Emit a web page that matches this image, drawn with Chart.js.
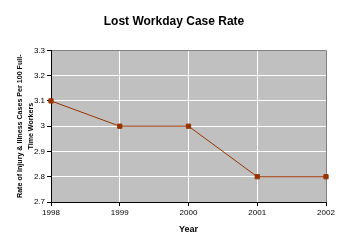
<!DOCTYPE html>
<html>
<head>
<meta charset="utf-8">
<script src="https://cdn.jsdelivr.net/npm/chart.js@4"></script>
<style>
  html, body { margin: 0; padding: 0; background: #fff; }
  #wrap { width: 348px; height: 249px; }
</style>
</head>
<body>
<div id="wrap"><canvas id="rateChart" width="348" height="249"></canvas></div>
<script>
const years = ["1998", "1999", "2000", "2001", "2002"];
const caseRate = [3.1, 3.0, 3.0, 2.8, 2.8];
const yTicks = [2.7, 2.8, 2.9, 3.0, 3.1, 3.2, 3.3];

// gray plot background
const plotBg = {
    id: "plotBg",
    beforeDraw(chart) {
        const { ctx, chartArea: a } = chart;
        ctx.save();
        ctx.fillStyle = "#c0c0c0";
        ctx.fillRect(a.left, a.top, a.right - a.left, a.bottom - a.top);
        ctx.restore();
    },
};

const ctx = document.getElementById("rateChart").getContext("2d");
new Chart(ctx, {
    type: "line",
    data: {
        labels: years,
        datasets: [{
            data: caseRate,
            borderColor: "#993300",
            backgroundColor: "#993300",
            borderWidth: 1,
            pointStyle: "rect",
            pointRadius: 3,
            pointHoverRadius: 3,
            tension: 0,
            fill: false,
        }],
    },
    options: {
        responsive: false,
        animation: false,
        layout: { padding: { left: 0, right: 0, top: 0, bottom: 14 } },
        plugins: {
            legend: { display: false },
            tooltip: { enabled: false },
            title: {
                display: true,
                text: "Lost Workday Case Rate",
                color: "#000",
                font: { family: "Liberation Sans", size: 12, weight: "bold" },
                padding: { top: 14, bottom: 22 },
            },
        },
        scales: {
            x: {
                offset: false,
                grid: {
                    color: c => (c.index === years.length - 1 ? "#808080" : "#ffffff"),
                    tickColor: "#000",
                    tickLength: 4,
                },
                border: { color: "#000" },
                ticks: { color: "#000", font: { family: "Liberation Sans", size: 8 }, padding: 2, maxRotation: 0 },
                title: {
                    display: true,
                    text: "Year",
                    color: "#000",
                    font: { family: "Liberation Sans", size: 9, weight: "bold" },
                    padding: { top: 2, bottom: 0 },
                },
                afterFit: s => { s.height = 33; },
            },
            y: {
                min: 2.7,
                max: 3.3,
                afterBuildTicks: s => { s.ticks = yTicks.map(v => ({ value: v })); },
                grid: {
                    color: c => (c.tick && c.tick.value === 3.3 ? "#808080" : "#ffffff"),
                    tickColor: "#000",
                    tickLength: 4,
                },
                border: { color: "#000" },
                ticks: {
                    color: "#000",
                    font: { family: "Liberation Sans", size: 8 },
                    padding: 2,
                    callback: v => String(Number(v.toFixed(1))),
                },
                title: {
                    display: true,
                    text: ["Rate of Injury & Illness Cases Per 100 Full-", "Time Workers"],
                    color: "#000",
                    font: { family: "Liberation Sans", size: 7.1, weight: "bold", lineHeight: 1.55 },
                    padding: { top: 15, bottom: 0 },
                },
                afterFit: s => { s.width = 51; },
            },
            // empty right-hand strip so the title stays centred on the whole canvas
            yRight: {
                position: "right",
                display: true,
                grid: { display: false },
                border: { display: false },
                ticks: { display: false },
                afterFit: s => { s.width = 22; },
            },
        },
    },
    plugins: [plotBg],
});
</script>
</body>
</html>
